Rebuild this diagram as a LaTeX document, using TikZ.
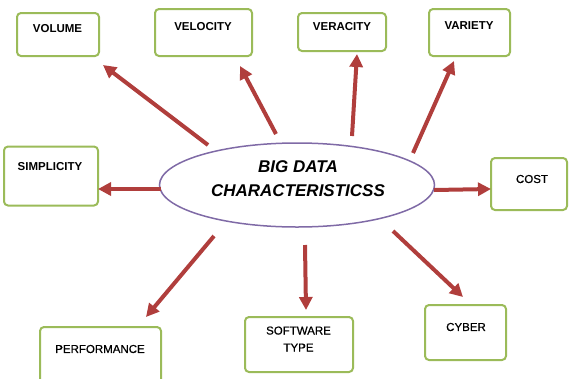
\documentclass[tikz,border=0pt]{standalone}
\usepackage{fontspec}
\setmainfont{Liberation Sans}
\newfontfamily\medfont[FakeBold=0.6]{Liberation Sans}
\usetikzlibrary{arrows.meta,shapes.geometric}
\definecolor{boxgreen}{HTML}{9BBB59}
\definecolor{arrred}{HTML}{B03E3C}
\definecolor{ellpurple}{HTML}{7F6AA6}
\tikzset{
  box/.style={draw=boxgreen, line width=2pt, rounded corners=4pt, fill=white, inner sep=0pt},
  lblb/.style={font=\fontsize{11.5}{13}\selectfont\bfseries, inner sep=0pt},
  lblr/.style={font=\fontsize{11.5}{17}\selectfont\medfont, inner sep=0pt, align=center},
  arr/.style={draw=arrred, line width=4pt, -{Triangle[length=13pt,width=13pt]}, arrred},
}
\begin{document}
\begin{tikzpicture}[x=1pt,y=-1pt]
\useasboundingbox (0,0) rectangle (569,378);
\clip (0,0) rectangle (569,378);
% boxes
\node[box, minimum width=82pt, minimum height=43pt] (vol) at (58,34.5) {};
\node[lblb] (volt) at (57.5,29) {VOLUME};
\node[box, minimum width=97pt, minimum height=47pt] (vel) at (203.5,32.5) {};
\node[lblb] (velt) at (203,27) {VELOCITY};
\node[box, minimum width=88pt, minimum height=38pt] (ver) at (342,32) {};
\node[lblb] (vert) at (342,27) {VERACITY};
\node[box, minimum width=81pt, minimum height=47pt] (var) at (469.5,32.5) {};
\node[lblb] (vart) at (469,26) {VARIETY};
\node[box, minimum width=94pt, minimum height=59pt] (sim) at (51,176) {};
\node[lblb] (simt) at (50,167) {SIMPLICITY};
\node[box, minimum width=76pt, minimum height=52pt] (cost) at (529,184) {};
\node[lblr] (costt) at (532,179) {COST};
\node[box, minimum width=121pt, minimum height=60pt] (perf) at (100.5,357) {};
\node[lblr] (perft) at (100,349) {PERFORMANCE};
\node[box, minimum width=108pt, minimum height=55pt] (soft) at (299,344.5) {};
\node[lblr] (softt) at (298.5,339) {SOFTWARE\\TYPE};
\node[box, minimum width=81pt, minimum height=55pt] (cyb) at (465.5,332.5) {};
\node[lblr] (cybt) at (466,327) {CYBER};
% ellipse
\node[ellipse, draw=ellpurple, line width=1.5pt, minimum width=275pt, minimum height=84pt, inner sep=0pt] (ell) at (297,185) {};
\node[font=\fontsize{17}{24}\selectfont\bfseries\itshape, align=center, inner sep=0pt] (ct) at (298,179) {BIG DATA\\CHARACTERISTICSS};
% connector ends
\coordinate (s1) at (208,145); \coordinate (t1) at (103,65);
\coordinate (s2) at (276,134); \coordinate (t2) at (240,66);
\coordinate (s3) at (352,136); \coordinate (t3) at (357,54);
\coordinate (s4) at (413,153); \coordinate (t4) at (454,61);
\coordinate (s5) at (161,189); \coordinate (t5) at (98,189);
\coordinate (s6) at (434,190); \coordinate (t6) at (491,189);
\coordinate (s7) at (214,236); \coordinate (t7) at (146,317);
\coordinate (s8) at (305,245); \coordinate (t8) at (306,310);
\coordinate (s9) at (393,231); \coordinate (t9) at (463,297);
\foreach \i in {1,...,9} { \draw[arr] (s\i) -- (t\i); }
\end{tikzpicture}
\end{document}
